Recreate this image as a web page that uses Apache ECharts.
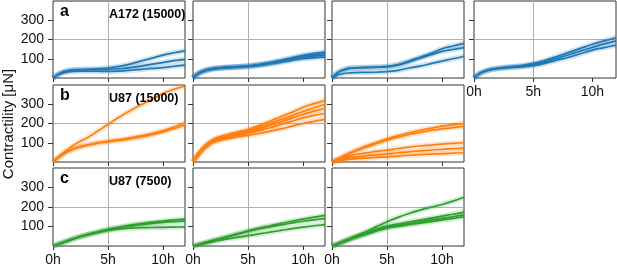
<!DOCTYPE html>
<html><head><meta charset="utf-8">
<script src="https://cdn.jsdelivr.net/npm/echarts@6/dist/echarts.min.js"></script>
<style>html,body{margin:0;padding:0;background:#fff}#c{width:617px;height:267px}</style>
</head><body><div id="c"></div>
<script>
// ---- data ----
const hours = [0,0.5,1,1.5,2,3,4,5,6,7,8,9,10,11,12];
const xTickValues = [0,5,10];
const yTickValues = [100,200,300];
const rowLetters = ['a','b','c'];
const rowTitles = ['A172 (15000)','U87 (15000)','U87 (7500)'];
const yAxisTitle = 'Contractility [μN]';

// row a : A172 (15000)
const a1 = [
  [0,20,33,40,43,45,48,52,60,72,88,103,119,131,141],
  [0,20,33,40,42,43,44,45,48,54,62,72,80,90,97],
  [0,18,28,33,35,35,35,34,36,40,45,50,54,61,67]
];
const a2 = [
  [0,25,38,46,51,56,59,63,70,80,92,105,118,128,135],
  [0,24,37,45,50,55,58,62,69,78,89,101,113,120,126],
  [0,24,36,44,49,54,57,61,67,76,86,97,107,114,119],
  [0,23,35,43,48,53,56,59,65,73,82,92,100,105,108]
];
const a3 = [
  [0,28,42,50,53,55,57,60,70,88,108,128,152,166,180],
  [0,27,41,49,52,54,56,58,67,84,103,121,138,148,158],
  [0,15,22,26,28,29,30,33,40,52,62,75,88,100,113]
];
const a4 = [
  [0,25,38,46,52,58,64,76,92,112,133,154,175,193,209],
  [0,24,37,45,50,56,61,70,84,102,121,140,159,177,193],
  [0,23,36,44,48,54,58,64,76,92,108,126,145,158,171]
];
// row b : U87 (15000)
const b1 = [
  [0,25,50,72,92,122,158,195,232,266,297,326,356,378,395],
  [0,25,45,60,72,88,100,109,116,125,136,148,163,182,204],
  [0,24,43,58,70,85,97,105,112,120,130,142,156,173,192]
];
const b2 = [
  [0,45,80,105,122,140,155,170,190,212,235,258,284,303,321],
  [0,42,75,100,116,134,148,162,180,200,220,241,262,282,300],
  [0,41,73,97,112,128,142,155,172,190,208,228,247,264,278],
  [0,40,71,94,109,124,137,148,163,178,195,212,229,242,252],
  [0,38,68,90,105,120,130,138,148,160,172,186,200,211,221]
];
const b3 = [
  [0,15,30,44,57,80,100,120,137,152,165,176,186,194,201],
  [0,14,28,42,54,76,95,113,129,143,154,164,172,179,185],
  [0,12,22,30,37,46,55,62,70,77,83,88,93,97,100],
  [0,8,15,21,25,32,37,42,48,53,58,62,66,69,72],
  [0,5,10,13,16,20,24,27,31,35,38,41,44,46,48]
];
// row c : U87 (7500)
const c1 = [
  [0,10,20,30,40,57,72,86,97,107,115,122,128,134,138],
  [0,10,20,30,40,56,70,83,93,102,110,116,121,125,128],
  [0,10,20,30,39,55,68,80,87,91,94,95,96,97,98]
];
const c2 = [
  [0,8,16,24,32,47,62,78,92,104,116,127,138,148,157],
  [0,8,16,24,31,45,59,75,87,98,108,118,127,134,140],
  [0,6,12,18,24,35,44,53,62,71,80,89,97,104,110]
];
const c3 = [
  [0,12,24,36,48,72,98,124,147,167,184,199,213,230,250],
  [0,10,22,33,44,64,85,102,113,123,133,143,153,163,174],
  [0,10,21,32,42,61,80,96,106,115,124,133,142,150,160],
  [0,10,20,30,40,58,76,92,101,109,117,125,133,141,150]
];

// ---- layout / style ----
const colors = ['#1f77b4','#ff7f0e','#2ca02c'];
const panels = [
  {data:a1,row:0,left:53,top:1,w:132,h:77,yl:true,xl:false},
  {data:a2,row:0,left:193,top:1,w:132,h:77,yl:false,xl:false},
  {data:a3,row:0,left:332,top:1,w:132,h:77,yl:false,xl:false},
  {data:a4,row:0,left:474,top:1,w:142,h:77,yl:false,xl:true},
  {data:b1,row:1,left:53,top:85,w:132,h:77,yl:true,xl:false},
  {data:b2,row:1,left:193,top:85,w:132,h:77,yl:false,xl:false},
  {data:b3,row:1,left:332,top:85,w:132,h:77,yl:false,xl:false},
  {data:c1,row:2,left:53,top:168,w:132,h:78,yl:true,xl:true},
  {data:c2,row:2,left:193,top:168,w:132,h:78,yl:false,xl:true},
  {data:c3,row:2,left:332,top:168,w:132,h:78,yl:false,xl:true}
];
const FONT = 'Liberation Sans, Arial, sans-serif';
const grid=[], xAxis=[], yAxis=[], series=[];
panels.forEach((p,i)=>{
  grid.push({left:p.left,top:p.top,width:p.w,height:p.h,show:true,borderColor:'#333',borderWidth:1,backgroundColor:'#fff'});
  xAxis.push({type:'value',gridIndex:i,min:0,max:12,interval:5,
    axisLine:{show:false},
    axisTick:{show:true,inside:false,length:4,customValues:xTickValues,lineStyle:{color:'#333'}},
    axisLabel:{show:p.xl,customValues:xTickValues,formatter:v=>v+'h',fontFamily:FONT,fontSize:14,color:'#111',margin:7},
    splitLine:{show:true,showMinLine:false,showMaxLine:false,lineStyle:{color:'#b0b0b0',width:1}}
  });
  yAxis.push({type:'value',gridIndex:i,min:0,max:400,interval:100,
    axisLine:{show:false},
    axisTick:{show:true,inside:false,length:5,customValues:yTickValues,lineStyle:{color:'#333'}},
    axisLabel:{show:p.yl,customValues:yTickValues,fontFamily:FONT,fontSize:14,color:'#111',margin:9},
    splitLine:{show:true,showMinLine:false,showMaxLine:false,lineStyle:{color:'#b0b0b0',width:1}}
  });
  const col = colors[p.row];
  p.data.forEach(vals=>{
    const pts = hours.map((h,k)=>[h,vals[k]]);
    series.push({type:'line',xAxisIndex:i,yAxisIndex:i,data:pts,smooth:0.4,showSymbol:false,silent:true,
      lineStyle:{color:col,width:5.5,opacity:0.2},z:2});
  });
  p.data.forEach(vals=>{
    const pts = hours.map((h,k)=>[h,vals[k]]);
    series.push({type:'line',xAxisIndex:i,yAxisIndex:i,data:pts,smooth:0.4,showSymbol:false,silent:true,
      lineStyle:{color:col,width:1.7},z:3});
  });
});
const rowTops=[1,85,168];
const graphic=[];
rowLetters.forEach((l,r)=>{
  graphic.push({type:'text',left:60,top:rowTops[r]+3,z:10,style:{text:l,font:'bold 16px '+FONT,fill:'#000'}});
  graphic.push({type:'text',left:109,top:rowTops[r]+7,z:10,style:{text:rowTitles[r],font:'bold 12.5px '+FONT,fill:'#000'}});
});
graphic.push({type:'text',x:1,y:124,rotation:Math.PI/2,z:10,
  style:{text:yAxisTitle,font:'15px '+FONT,fill:'#111',align:'center',verticalAlign:'top'}});
const chart = echarts.init(document.getElementById('c'),null,{renderer:'canvas'});
chart.setOption({animation:false,grid,xAxis,yAxis,series,graphic});
</script></body></html>
